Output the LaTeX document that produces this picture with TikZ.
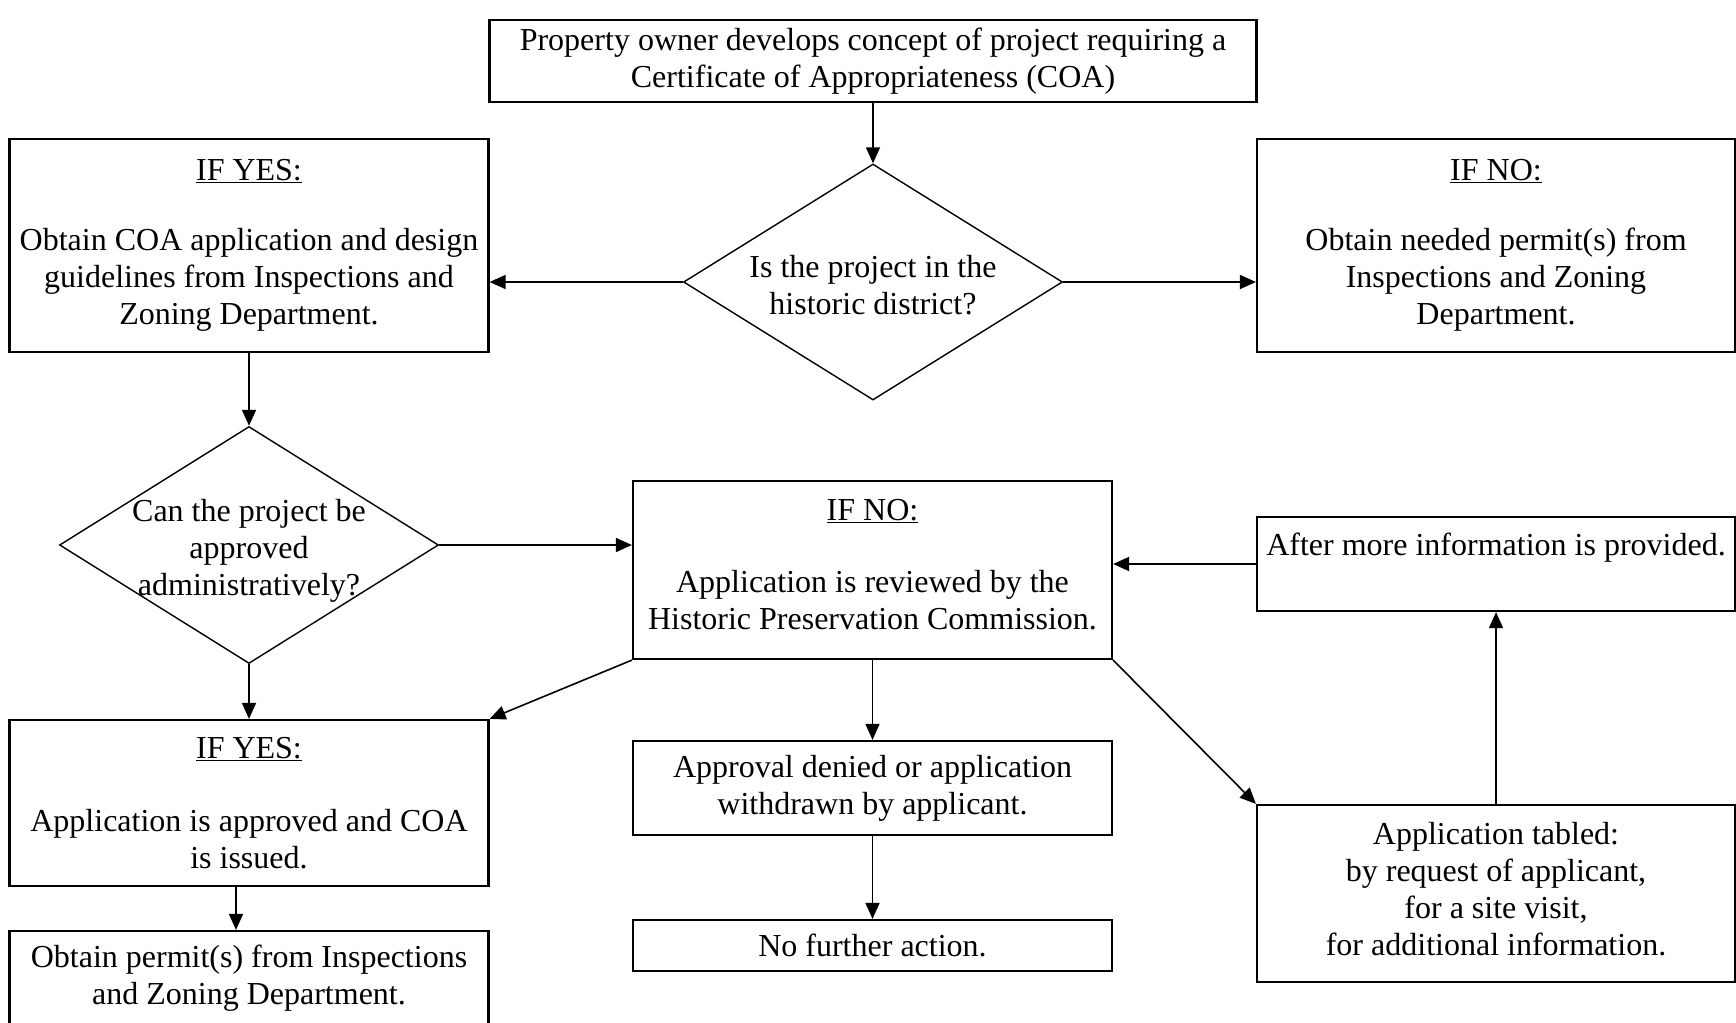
\documentclass[tikz,border=0pt]{standalone}
\usepackage{fontspec}
\setmainfont{Liberation Serif}
\usetikzlibrary{arrows.meta,shapes.geometric}
\begin{document}
\begin{tikzpicture}[x=1pt,y=-1pt,font=\fontsize{32}{37}\selectfont,
		box/.style={draw,line width=2.2pt,inner sep=0pt,align=center},
		decision/.style={draw,diamond,line width=1.4pt,inner sep=0pt},
		arr/.style={-{Triangle[length=16pt,width=14pt]},line width=1.6pt}]
	\useasboundingbox (0,0) rectangle (1736,1022);
	% top row
	\node[box,minimum width=767pt,minimum height=82pt] (concept) at (873,61) {Property owner develops concept of project requiring a\\Certificate of Appropriateness (COA)};
	\node[decision,minimum width=379pt,minimum height=236pt] (q1) at (873,282) {};
	\node[align=center] (q1txt) at (873,285) {Is the project in the\\historic district?};
	\node[box,minimum width=479pt,minimum height=213pt] (yes1) at (249,245.5) {\underline{IF YES:}\\[33pt]Obtain COA application and design\\guidelines from Inspections and\\Zoning Department.};
	\node[box,minimum width=478pt,minimum height=213pt] (no1) at (1496,245.5) {\underline{IF NO:}\\[33pt]Obtain needed permit(s) from\\Inspections and Zoning\\Department.};
	% middle row
	\node[decision,minimum width=379pt,minimum height=237pt] (q2) at (249,545) {};
	\node[align=center] (q2txt) at (249,551) {Can the project be\\approved\\administratively?};
	\node[box,minimum width=479pt,minimum height=178pt,text depth=12pt] (mid) at (872.5,570) {\underline{IF NO:}\\[35pt]Application is reviewed by the\\Historic Preservation Commission.};
	\node[box,minimum width=478pt,minimum height=94pt,text height=23pt,text depth=41pt] (after) at (1496,564) {After more information is provided.};
	% bottom row
	\node[box,minimum width=479pt,minimum height=166pt] (yes2) at (249,803) {\underline{IF YES:}\\[36pt]Application is approved and COA\\is issued.};
	\node[box,minimum width=479pt,minimum height=94pt] (denied) at (872.5,788) {Approval denied or application\\withdrawn by applicant.};
	\node[box,minimum width=479pt,minimum height=51pt] (nofurther) at (872.5,945.5) {No further action.};
	\node[box,minimum width=478pt,minimum height=177pt,text depth=10pt] (tabled) at (1496,893.5) {Application tabled:\\by request of applicant,\\for a site visit,\\for additional information.};
	\node[box,minimum width=479pt,minimum height=95pt] (permit) at (249,978.5) {Obtain permit(s) from Inspections\\and Zoning Department.};
	% connectors
	\draw[arr] (concept.south) -- (q1.north);
	\draw[arr] (q1.west) -- (q1.west -| yes1.east);
	\draw[arr] (q1.east) -- (q1.east -| no1.west);
	\draw[arr] (yes1.south) -- (q2.north);
	\draw[arr] (q2.east) -- (q2.east -| mid.west);
	\draw[arr] (after.west) -- (after.west -| mid.east);
	\draw[arr] (tabled.north) -- (after.south);
	\draw[arr] (q2.south) -- (yes2.north);
	\draw[arr] (mid.south west) -- (yes2.north east);
	\draw[arr] (mid.south) -- (denied.north);
	\draw[arr] (mid.south east) -- (tabled.north west);
	\draw[arr] (denied.south) -- (nofurther.north);
	\draw[arr] ([xshift=-13pt]yes2.south) -- ([xshift=-13pt]permit.north);
\end{tikzpicture}
\end{document}
